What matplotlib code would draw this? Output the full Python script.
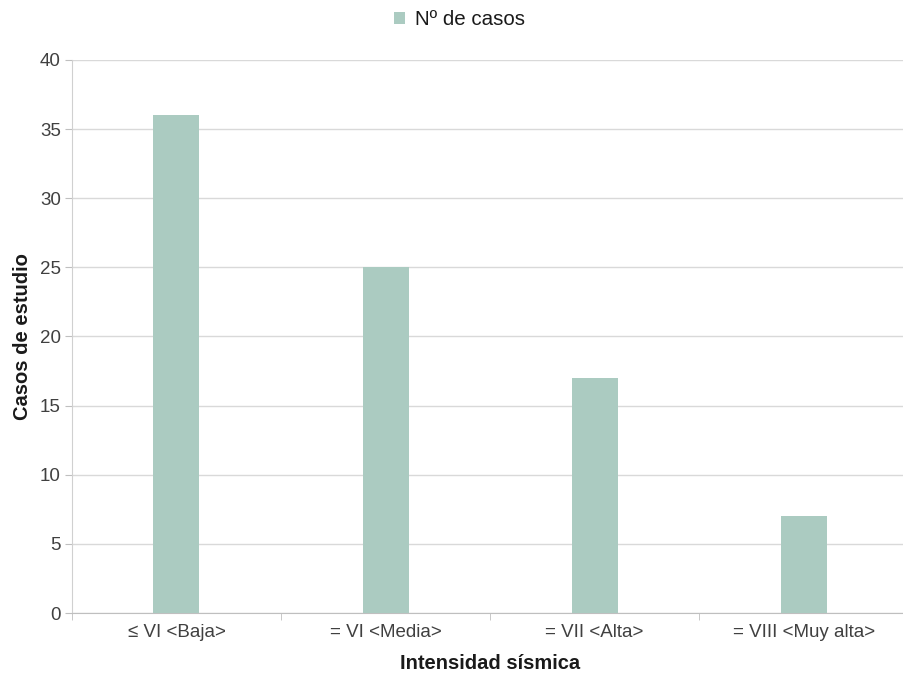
import matplotlib
matplotlib.use("Agg")
import matplotlib.pyplot as plt
import numpy as np

categories = ["≤ VI <Baja>", "= VI <Media>", "= VII <Alta>", "= VIII <Muy alta>"]
casos = [36, 25, 17, 7]
series_name = "Nº de casos"

plt.rcParams['font.family'] = ['Liberation Sans', 'DejaVu Sans']

bar_color = "#abcbc1"
grid_color = "#d9d9d9"
text_color = "#404040"

fig = plt.figure(figsize=(9.04, 6.74), dpi=100)
ax = fig.add_axes([0.0796, 0.0905, 0.925, 0.8205])

x = np.arange(len(categories))
ax.bar(x, casos, width=0.22, color=bar_color, label=series_name, zorder=3)

ax.set_xlim(-0.5, len(categories) - 0.5)
ax.set_ylim(0, 40)
ax.set_yticks(np.arange(0, 41, 5))
ax.yaxis.grid(True, color=grid_color, linewidth=1, zorder=0)
ax.set_axisbelow(True)

# category labels centered; tick marks at category boundaries
ax.set_xticks(x)
ax.set_xticklabels(categories)
ax.tick_params(axis='x', length=0, pad=8, labelsize=13.5, labelcolor=text_color)
ax.set_xticks(np.arange(-0.5, len(categories), 1.0), minor=True)
ax.tick_params(axis='x', which='minor', length=5, color="#bfbfbf", direction='out')
ax.tick_params(axis='y', length=5, color="#bfbfbf", labelsize=13.5, labelcolor=text_color, pad=3)

for s in ["top", "right"]:
    ax.spines[s].set_visible(False)
ax.spines["left"].set_color("#d0d0d0")
ax.spines["bottom"].set_color("#bfbfbf")

ax.set_xlabel("Intensidad sísmica", fontsize=14.5, fontweight='bold', color="#1a1a1a", labelpad=9)
ax.set_ylabel("Casos de estudio", fontsize=14.5, fontweight='bold', color="#1a1a1a", labelpad=6)

fig.legend(loc='upper center', bbox_to_anchor=(0.508, 1.012), frameon=False, fontsize=14.8,
           handlelength=0.55, handleheight=0.55, handletextpad=0.45, labelcolor="#1a1a1a")

fig.savefig("out.png", dpi=100)
